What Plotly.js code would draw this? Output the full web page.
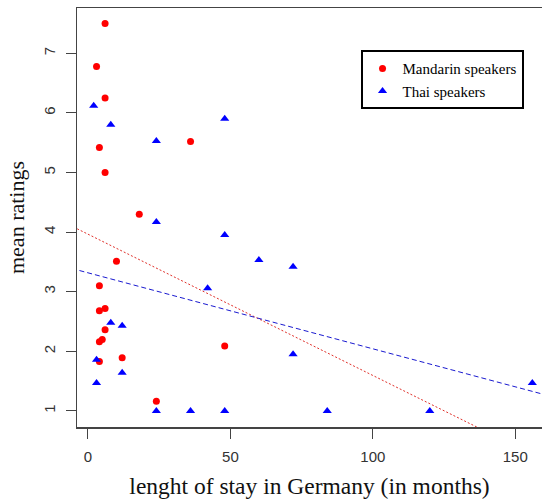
<!DOCTYPE html>
<html>
<head>
<meta charset="utf-8">
<script src="https://cdn.plot.ly/plotly-3.0.1.min.js"></script>
<style>
  html, body { margin: 0; padding: 0; background: #fff; overflow: hidden; }
  #chart { width: 542px; height: 502px; }
</style>
</head>
<body>
<div id="chart"></div>
<script>
// ---- data ----
const mandarinX = [6, 3, 6, 4, 6, 36, 18, 10, 4, 4, 6, 6, 5, 4, 4, 12, 24, 48];
const mandarinY = [7.5, 6.78, 6.25, 5.42, 5.0, 5.52, 4.3, 3.51, 3.1, 2.68, 2.72, 2.36, 2.2, 2.16, 1.83, 1.89, 1.16, 2.09];

const thaiX = [2, 8, 24, 48, 24, 48, 60, 42, 8, 12, 3, 12, 3, 24, 36, 48, 72, 72, 84, 120, 156];
const thaiY = [6.12, 5.8, 5.53, 5.9, 4.17, 3.95, 3.53, 3.06, 2.48, 2.43, 1.86, 1.64, 1.47, 1.0, 1.0, 1.0, 3.42, 1.95, 1.0, 1.0, 1.47];

const seriesNames = ["Mandarin speakers", "Thai speakers"];
// regression lines (intercept, slope)
const fitIntercept = [3.965, 3.317];
const fitSlope = [-0.0237, -0.01275];

const xTicks = [0, 50, 100, 150];
const yTicks = [1, 2, 3, 4, 5, 6, 7];

const xRange = [-3.86, 159.4];
const yRange = [0.73, 7.76];

function fitLine(i) {
  const xs = [xRange[0] - 10, xRange[1] + 10];
  return { x: xs, y: xs.map(v => fitIntercept[i] + fitSlope[i] * v) };
}

const redFit = fitLine(0);
const blueFit = fitLine(1);

const traces = [
  {
    x: redFit.x, y: redFit.y, mode: 'lines', showlegend: false, hoverinfo: 'skip',
    line: { color: '#e0302a', width: 1, dash: '2px,2px' }
  },
  {
    x: blueFit.x, y: blueFit.y, mode: 'lines', showlegend: false, hoverinfo: 'skip',
    line: { color: '#1a1ad0', width: 1, dash: '5px,3px' }
  },
  {
    x: mandarinX, y: mandarinY, mode: 'markers', name: seriesNames[0], type: 'scatter',
    marker: { symbol: 'circle', size: 7, color: '#ff0000' }
  },
  {
    x: thaiX, y: thaiY, mode: 'markers', name: seriesNames[1], type: 'scatter',
    marker: { symbol: 'triangle-up', size: 8, color: '#0000ff' }
  }
];

const axisFont = { family: 'Liberation Sans, Arial, sans-serif', size: 15, color: '#333' };

const layout = {
  width: 542, height: 502,
  margin: { l: 77, r: 0, t: 8, b: 75, pad: 0 },
  paper_bgcolor: '#fff', plot_bgcolor: '#fff',
  showlegend: true,
  legend: {
    x: 0.785, xanchor: 'center', y: 0.829, yanchor: 'middle',
    bgcolor: '#fff', bordercolor: '#000', borderwidth: 2,
    font: { family: 'Liberation Serif, Times New Roman, serif', size: 15, color: '#000' },
    tracegroupgap: 0
  },
  xaxis: {
    range: xRange, tickvals: xTicks, ticktext: xTicks.map(String),
    showgrid: false, zeroline: false,
    showline: true, mirror: true, linecolor: '#444', linewidth: 1.5,
    ticks: 'outside', ticklen: 10, tickwidth: 1, tickcolor: '#444',
    ticklabelstandoff: 5,
    tickfont: axisFont,
    title: { text: 'lenght of stay in Germany (in months)', standoff: 14,
             font: { family: 'Liberation Serif, Times New Roman, serif', size: 23.5, color: '#111' } }
  },
  yaxis: {
    range: yRange, tickvals: yTicks, ticktext: yTicks.map(String),
    showgrid: false, zeroline: false,
    showline: true, mirror: false, linecolor: '#444', linewidth: 1.5,
    ticks: 'outside', ticklen: 10, tickwidth: 1, tickcolor: '#444',
    tickangle: -90, ticklabelstandoff: 5,
    tickfont: axisFont,
    title: { text: 'mean ratings', standoff: 10,
             font: { family: 'Liberation Serif, Times New Roman, serif', size: 22, color: '#111' } }
  }
};

Plotly.newPlot('chart', traces, layout, { displayModeBar: false, staticPlot: true });
</script>
</body>
</html>
